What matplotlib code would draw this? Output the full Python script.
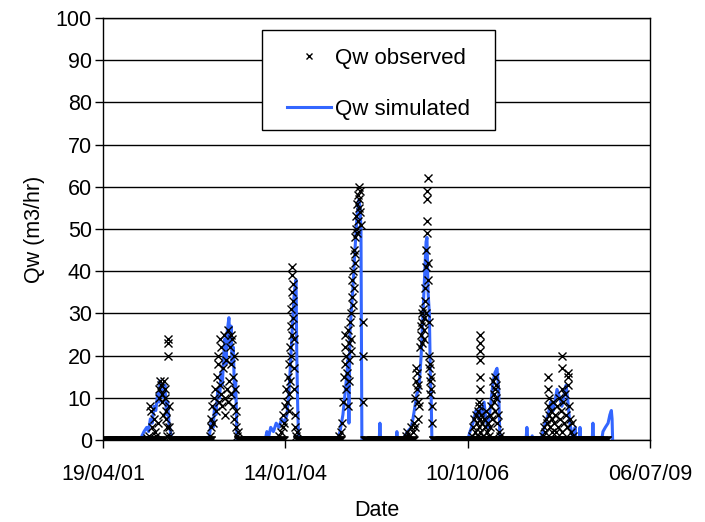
import numpy as np
import matplotlib
matplotlib.use("Agg")
import matplotlib.pyplot as plt
import matplotlib.dates as mdates
from matplotlib.patches import Rectangle

plt.rcParams["font.family"] = ["Liberation Sans", "DejaVu Sans"]

START = np.datetime64("2001-04-19")

# simulated Qw, (day since 19/04/01, m3/hr)
sim_days = [0, 205, 214, 225, 240, 250, 260, 270, 280, 290, 300, 308, 313, 320, 330, 340, 348, 355, 362, 370, 378,
            580, 587, 595, 605, 612, 620, 630, 640, 648, 655, 662, 669, 675, 682, 691, 697, 703, 708, 715, 722, 728, 735,
            890, 899, 910, 920, 935, 950, 965, 980, 995, 1009, 1018, 1026, 1033, 1040, 1046, 1052, 1059, 1063, 1068, 1073,
            1289, 1300, 1316, 1330, 1344, 1349, 1355, 1371, 1382, 1393, 1404, 1410, 1415, 1418, 1420,
            1515, 1519, 1523, 1608, 1612, 1616,
            1640, 1656, 1670, 1690, 1700, 1711, 1722, 1733, 1745, 1755, 1765, 1772, 1777, 1783, 1790, 1796, 1800, 1804,
            2000, 2013, 2029, 2045, 2060, 2068, 2080, 2090, 2100, 2110, 2120, 2130, 2140, 2150, 2161, 2170, 2177,
            2320, 2325, 2330, 2350, 2354, 2358,
            2400, 2413, 2425, 2441, 2455, 2470, 2490, 2505, 2517, 2530, 2540, 2550, 2560, 2570, 2578,
            2585, 2589, 2593, 2612, 2616, 2620, 2683, 2687, 2691,
            2735, 2742, 2755, 2770, 2780, 2788, 2792, 2795]
sim_vals = [0, 0, 1, 2, 3, 2, 5, 4, 8, 7, 11, 9, 14, 12, 10, 13, 6, 9, 4, 2, 0,
            0, 2, 5, 3, 8, 6, 12, 10, 16, 13, 20, 24, 18, 26, 29, 22, 27, 18, 22, 10, 14, 0,
            0, 2, 1, 3, 2, 4, 3, 5, 4, 6, 10, 16, 22, 28, 33, 36, 38, 20, 8, 0,
            0, 2, 6, 12, 19, 4, 26, 36, 45, 53, 57, 55, 50, 20, 0,
            0, 4, 0, 0, 2, 0,
            0, 1, 2, 3, 5, 8, 11, 12, 20, 30, 40, 47, 48, 35, 30, 14, 10, 0,
            0, 2, 4, 7, 5, 8, 6, 9, 5, 3, 6, 10, 14, 16, 17, 12, 0,
            0, 3, 0, 0, 1, 0,
            0, 2, 4, 6, 9, 7, 12, 10, 8, 11, 13, 9, 4, 2, 0,
            0, 3, 0, 0, 3, 0, 0, 4, 0,
            0, 2, 3, 4, 6, 7, 5, 0]

# observed Qw = 0 periods (first day, last day)
obs_zero_runs = [(0, 335), (368, 595), (738, 995), (1062, 1305), (1432, 1705), (1808, 2765)]

# observed Qw, non-zero readings
obs_days = [240, 250, 258, 262, 270, 280, 285, 290, 300, 305, 310, 313, 318, 322, 325, 330, 335, 338, 340, 345,
            348, 350, 352, 356, 357, 358, 360, 365, 370,
            585, 590, 595, 600, 605, 610, 615, 620, 625, 630, 631, 635, 640, 642, 645, 650, 655, 660, 665, 668,
            670, 675, 680, 685, 688, 690, 695, 700, 702, 705, 708, 712, 715, 718, 720, 725, 728, 730, 735, 738,
            965, 975, 985, 990, 995, 1000, 1005, 1010, 1015, 1018, 1020, 1022, 1025, 1028, 1030, 1032, 1034, 1036,
            1037, 1038, 1039, 1040, 1042, 1044, 1046, 1048, 1050, 1052, 1055, 1060, 1065,
            1295, 1305, 1310, 1316, 1320, 1325, 1328, 1330, 1332, 1335, 1340, 1342, 1345, 1348, 1350, 1352, 1355,
            1358, 1360, 1362, 1366, 1368, 1370, 1372, 1375, 1378, 1380, 1383, 1385, 1388, 1390, 1393, 1395, 1398,
            1400, 1402, 1404, 1406, 1408, 1410, 1413, 1426, 1427, 1428,
            1660, 1670, 1680, 1690, 1700, 1705, 1710, 1712, 1715, 1718, 1720, 1722, 1725, 1728, 1730, 1735, 1740,
            1742, 1745, 1748, 1750, 1752, 1755, 1758, 1760, 1762, 1765, 1768, 1770, 1772, 1774, 1776, 1777, 1778,
            1779, 1780, 1781, 1784, 1786, 1788, 1790, 1792, 1794, 1796, 1798, 1800, 1802, 1804,
            2025, 2030, 2035, 2040, 2045, 2050, 2055, 2058, 2060, 2062, 2065, 2068, 2068, 2068, 2068, 2066, 2066,
            2064, 2070, 2075, 2080, 2085, 2090, 2095, 2100, 2105, 2110, 2115, 2120, 2125, 2130, 2135, 2140, 2142,
            2145, 2148, 2150, 2152, 2155, 2158, 2160, 2165, 2170, 2175,
            2415, 2420, 2425, 2430, 2435, 2438, 2441, 2441, 2444, 2447, 2450, 2455, 2460, 2465, 2470, 2475, 2480,
            2485, 2490, 2495, 2500, 2505, 2510, 2515, 2517, 2517, 2520, 2525, 2530, 2535, 2540, 2545, 2548, 2550,
            2552, 2555, 2560, 2565, 2570, 2575]
obs_vals = [0.5, 1, 8, 7, 3, 5, 2, 1, 4, 10, 12, 14, 13, 11, 9, 6, 14, 12, 10, 7,
            5, 3, 1, 24, 23, 20, 8, 3, 1,
            1, 3, 5, 8, 4, 10, 12, 7, 15, 18, 20, 9, 13, 24, 22, 11, 8, 17, 25, 10,
            6, 19, 12, 26, 9, 14, 22, 25, 11, 18, 24, 8, 15, 20, 5, 12, 3, 7, 1, 2,
            1, 2, 3, 6, 4, 8, 12, 9, 15, 11, 18, 7, 22, 14, 27, 20, 31, 25,
            35, 39, 41, 37, 33, 29, 24, 17, 12, 6, 3, 1, 2,
            1, 2, 4, 9, 15, 22, 18, 25, 12, 20, 16, 26, 8, 23, 14, 19, 28,
            24, 30, 21, 34, 38, 32, 40, 36, 45, 42, 48, 44, 50, 53, 49, 56, 52,
            58, 55, 60, 57, 59, 54, 51, 28, 20, 9,
            1, 2, 1, 3, 2, 4, 3, 10, 14, 17, 12, 16, 9, 13, 5, 8, 22,
            27, 25, 30, 23, 28, 31, 26, 24, 29, 33, 36, 30, 41, 45, 49, 52, 57,
            59, 62, 42, 38, 28, 20, 17, 14, 18, 11, 15, 12, 8, 4,
            1, 3, 5, 2, 6, 4, 7, 1, 3, 8, 5, 25, 23, 21, 19, 15, 12,
            9, 2, 6, 4, 1, 5, 3, 7, 2, 4, 1, 6, 3, 8, 5, 14, 11,
            9, 15, 12, 7, 13, 10, 4, 6, 2, 1,
            1, 3, 2, 5, 4, 8, 15, 12, 10, 6, 3, 7, 2, 5, 9, 4, 6,
            2, 8, 3, 10, 5, 7, 2, 20, 17, 12, 9, 4, 11, 6, 3, 16, 13,
            15, 8, 5, 2, 4, 1]

tick_days = [0, 1000, 2000, 3000]


def to_dates(days):
    return START + np.asarray(days).astype("timedelta64[D]")


zero_days = np.concatenate([np.arange(a, b + 1, 3) for a, b in obs_zero_runs])
all_obs_days = np.concatenate([zero_days, obs_days])
all_obs_vals = np.concatenate([np.zeros(len(zero_days)), obs_vals])

fig = plt.figure(figsize=(7.05, 5.22), dpi=100)
ax = fig.add_axes([0.146, 0.157, 0.776, 0.8085])

ax.plot(to_dates(all_obs_days), all_obs_vals, linestyle="none", marker="x", color="black",
        markersize=5.8, markeredgewidth=1.0, label="Qw observed", zorder=3)
ax.plot(to_dates(sim_days), sim_vals, color="#3366FF", linewidth=2.2, label="Qw simulated", zorder=2)

ax.set_xlim(to_dates([0])[0], to_dates([3000])[0])
ax.set_ylim(0, 100)
ax.set_xticks(to_dates(tick_days))
ax.xaxis.set_major_formatter(mdates.DateFormatter("%d/%m/%y"))
ax.set_yticks(np.arange(0, 101, 10))

ax.yaxis.grid(True, color="black", linewidth=1.0)
ax.set_axisbelow(True)
for s in ax.spines.values():
    s.set_color("black")
    s.set_linewidth(1.0)

ax.tick_params(axis="both", direction="out", length=6, width=1.0, labelsize=15.5, colors="black")
ax.tick_params(axis="x", pad=11)
ax.tick_params(axis="y", pad=2)

ax.set_xlabel("Date", fontsize=15.5, labelpad=11)
ax.set_ylabel("Qw (m3/hr)", fontsize=15.5, labelpad=8)

# legend box, drawn separately so its padding can match the original
box = Rectangle((0.2907, 0.7346), 0.4259, 0.237, transform=ax.transAxes, facecolor="white",
                edgecolor="black", linewidth=1.0, zorder=4)
ax.add_patch(box)
leg = ax.legend(loc="center left", bbox_to_anchor=(0.3364, 0.8436), fontsize=16, frameon=False,
                borderpad=0, labelspacing=1.34, handlelength=2.0, handletextpad=0.15,
                numpoints=1, borderaxespad=0)
leg.set_zorder(5)
leg.legend_handles[0].set_markersize(4.5)

fig.savefig("out.png", dpi=100)
